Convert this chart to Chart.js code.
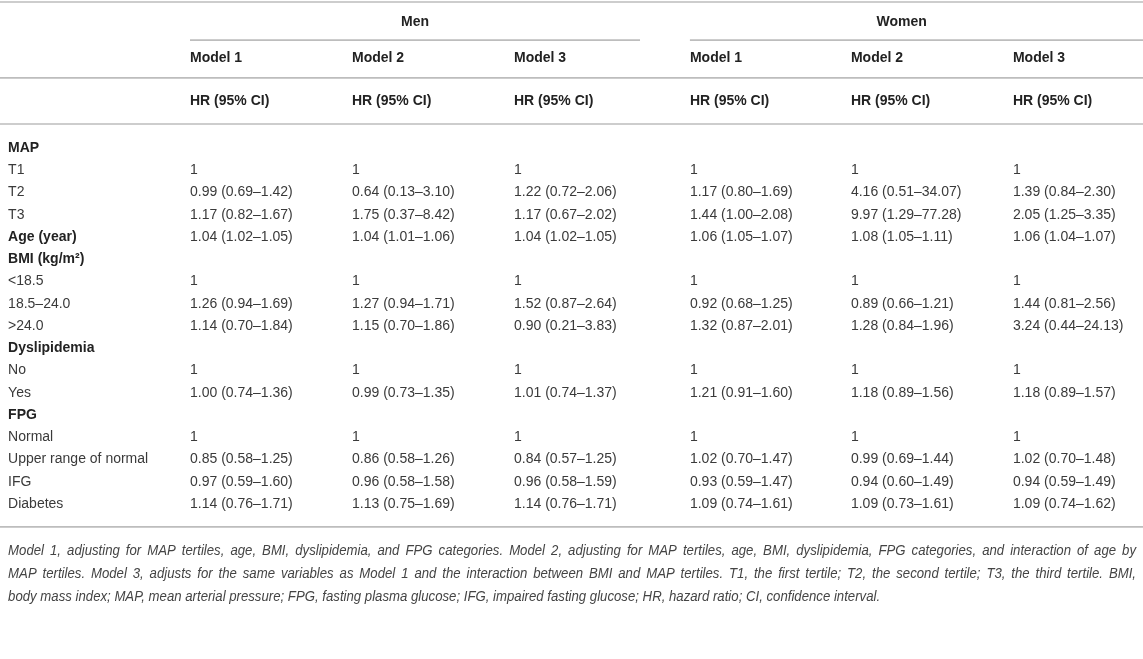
<!DOCTYPE html>
<html>
<head>
<meta charset="utf-8">
<script src="https://cdn.jsdelivr.net/npm/chart.js@4"></script>
<style>
  html, body { margin: 0; padding: 0; background: #fff; }
  #wrap { width: 1143px; height: 659px; }
</style>
</head>
<body>
<div id="wrap"><canvas id="hr_table"></canvas></div>
<script>
// table content
var groups = ['Men', 'Women'];
var models = ['Model 1', 'Model 2', 'Model 3'];
var statLabel = 'HR (95% CI)';

var rowLabels = ['MAP', 'T1', 'T2', 'T3', 'Age (year)', 'BMI (kg/m²)', '<18.5', '18.5–24.0', '>24.0',
  'Dyslipidemia', 'No', 'Yes', 'FPG', 'Normal', 'Upper range of normal', 'IFG', 'Diabetes'];
var groupRows = ['MAP', 'Age (year)', 'BMI (kg/m²)', 'Dyslipidemia', 'FPG'];

var menModel1 = ['', '1', '0.99 (0.69–1.42)', '1.17 (0.82–1.67)', '1.04 (1.02–1.05)', '', '1', '1.26 (0.94–1.69)', '1.14 (0.70–1.84)',
  '', '1', '1.00 (0.74–1.36)', '', '1', '0.85 (0.58–1.25)', '0.97 (0.59–1.60)', '1.14 (0.76–1.71)'];
var menModel2 = ['', '1', '0.64 (0.13–3.10)', '1.75 (0.37–8.42)', '1.04 (1.01–1.06)', '', '1', '1.27 (0.94–1.71)', '1.15 (0.70–1.86)',
  '', '1', '0.99 (0.73–1.35)', '', '1', '0.86 (0.58–1.26)', '0.96 (0.58–1.58)', '1.13 (0.75–1.69)'];
var menModel3 = ['', '1', '1.22 (0.72–2.06)', '1.17 (0.67–2.02)', '1.04 (1.02–1.05)', '', '1', '1.52 (0.87–2.64)', '0.90 (0.21–3.83)',
  '', '1', '1.01 (0.74–1.37)', '', '1', '0.84 (0.57–1.25)', '0.96 (0.58–1.59)', '1.14 (0.76–1.71)'];
var womenModel1 = ['', '1', '1.17 (0.80–1.69)', '1.44 (1.00–2.08)', '1.06 (1.05–1.07)', '', '1', '0.92 (0.68–1.25)', '1.32 (0.87–2.01)',
  '', '1', '1.21 (0.91–1.60)', '', '1', '1.02 (0.70–1.47)', '0.93 (0.59–1.47)', '1.09 (0.74–1.61)'];
var womenModel2 = ['', '1', '4.16 (0.51–34.07)', '9.97 (1.29–77.28)', '1.08 (1.05–1.11)', '', '1', '0.89 (0.66–1.21)', '1.28 (0.84–1.96)',
  '', '1', '1.18 (0.89–1.56)', '', '1', '0.99 (0.69–1.44)', '0.94 (0.60–1.49)', '1.09 (0.73–1.61)'];
var womenModel3 = ['', '1', '1.39 (0.84–2.30)', '2.05 (1.25–3.35)', '1.06 (1.04–1.07)', '', '1', '1.44 (0.81–2.56)', '3.24 (0.44–24.13)',
  '', '1', '1.18 (0.89–1.57)', '', '1', '1.02 (0.70–1.48)', '0.94 (0.59–1.49)', '1.09 (0.74–1.62)'];

var footnote = [
  'Model 1, adjusting for MAP tertiles, age, BMI, dyslipidemia, and FPG categories. Model 2, adjusting for MAP tertiles, age, BMI, dyslipidemia, FPG categories, and interaction of age by',
  'MAP tertiles. Model 3, adjusts for the same variables as Model 1 and the interaction between BMI and MAP tertiles. T1, the first tertile; T2, the second tertile; T3, the third tertile. BMI,',
  'body mass index; MAP, mean arterial pressure; FPG, fasting plasma glucose; IFG, impaired fasting glucose; HR, hazard ratio; CI, confidence interval.'
];

/////////////////////////////////////////////////////////
// layout, in scale units (x: column widths, y: body rows)

var colAt = [-1.123, 0, 1, 2, 3.086, 4.08, 5.08];
var groupSpan = [[0, 2.778], [3.086, 5.9]];
var groupRowY = -5.66, modelRowY = -4.04, statRowY = -2.11;
var ruleY = { top: -6.56, group: -4.85, model: -3.15, stat: -1.08, bottom: 17.03 };
var footY = [18.13, 19.16, 20.16];
var footLastEnd = 0.77;   // last footnote line ends at this share of the width

var FONT = '"Liberation Sans", Arial, Helvetica, sans-serif';
var RULE = '#bdbdbd';

var bodyCols = [rowLabels, menModel1, menModel2, menModel3, womenModel1, womenModel2, womenModel3];

function cellSet(col, texts, ys, bold) {
  return {
    type: 'scatter',
    data: texts.map(function(t, j) { return { x: colAt[col], y: ys[j] }; }),
    cellText: texts,
    cellBold: bold,
    pointRadius: 0,
    pointHoverRadius: 0
  };
}

function ruleSet(x0, x1, y) {
  return {
    type: 'line',
    data: [{ x: x0, y: y }, { x: x1, y: y }],
    borderColor: RULE,
    borderWidth: 1.6,
    pointRadius: 0,
    fill: false
  };
}

var datasets = [];

// rules
datasets.push(ruleSet(-1.3, 6, ruleY.top));
datasets.push(ruleSet(groupSpan[0][0], groupSpan[0][1], ruleY.group));
datasets.push(ruleSet(groupSpan[1][0], groupSpan[1][1], ruleY.group));
datasets.push(ruleSet(-1.3, 6, ruleY.model));
datasets.push(ruleSet(-1.3, 6, ruleY.stat));
datasets.push(ruleSet(-1.3, 6, ruleY.bottom));

// body cells
var bodyY = rowLabels.map(function(r, i) { return i; });
bodyCols.forEach(function(texts, c) {
  var bold = texts.map(function(t) { return c === 0 && groupRows.indexOf(t) >= 0; });
  datasets.push(cellSet(c, texts, bodyY, bold));
});

// header cells
for (var c = 1; c < colAt.length; c++) {
  datasets.push(cellSet(c, [models[(c - 1) % 3], statLabel], [modelRowY, statRowY], [true, true]));
}
datasets.push({
  type: 'scatter',
  data: groups.map(function(g, i) {
    return { x: (groupSpan[i][0] + Math.min(groupSpan[i][1], 5.7)) / 2, y: groupRowY };
  }),
  cellText: groups,
  cellBold: [true, true],
  cellAlign: 'center',
  pointRadius: 0
});

var tableText = {
  id: 'tableText',
  afterDatasetsDraw: function(chart) {
    var ctx = chart.ctx;
    ctx.save();
    ctx.textBaseline = 'middle';
    chart.data.datasets.forEach(function(ds, i) {
      if (!ds.cellText) return;
      var meta = chart.getDatasetMeta(i);
      ctx.textAlign = ds.cellAlign || 'left';
      meta.data.forEach(function(pt, j) {
        var t = ds.cellText[j];
        if (!t) return;
        ctx.font = (ds.cellBold[j] ? 'bold ' : '') + '14px ' + FONT;
        ctx.fillStyle = ds.cellBold[j] ? '#222' : '#3a3a3a';
        ctx.fillText(t, pt.x, pt.y);
      });
    });

    // footnote: condensed face, justified lines like the source
    var ys = chart.scales.y;
    var left = chart.scales.x.getPixelForValue(colAt[0]);
    var right = chart.chartArea.right - 7;
    var full = chart.chartArea.right - chart.chartArea.left;
    ctx.font = 'italic 14.5px ' + FONT;
    ctx.fillStyle = '#444';
    ctx.textAlign = 'left';
    var last = footnote[footnote.length - 1];
    var s = (full * footLastEnd - left) / ctx.measureText(last).width;
    footnote.forEach(function(line, k) {
      ctx.save();
      ctx.translate(left, ys.getPixelForValue(footY[k]));
      ctx.scale(s, 1);
      if (k === footnote.length - 1) {
        ctx.fillText(line, 0, 0);
      } else {
        var words = line.split(' ');
        var sum = 0;
        words.forEach(function(wd) { sum += ctx.measureText(wd).width; });
        var gap = ((right - left) / s - sum) / (words.length - 1);
        var x = 0;
        words.forEach(function(wd) {
          ctx.fillText(wd, x, 0);
          x += ctx.measureText(wd).width + gap;
        });
      }
      ctx.restore();
    });
    ctx.restore();
  }
};

var tableCanvas = document.getElementById('hr_table');

var lineChart = new Chart(tableCanvas, {
  type: 'scatter',
  data: { datasets: datasets },
  options: {
    responsive: true,
    maintainAspectRatio: false,
    animation: false,
    layout: { padding: 0 },
    plugins: { legend: { display: false }, tooltip: { enabled: false } },
    scales: {
      x: { type: 'linear', display: false, min: -1.173, max: 5.883 },
      y: { type: 'linear', display: false, reverse: true, min: -6.652, max: 22.966 }
    }
  },
  plugins: [tableText]
});
</script>
</body>
</html>
